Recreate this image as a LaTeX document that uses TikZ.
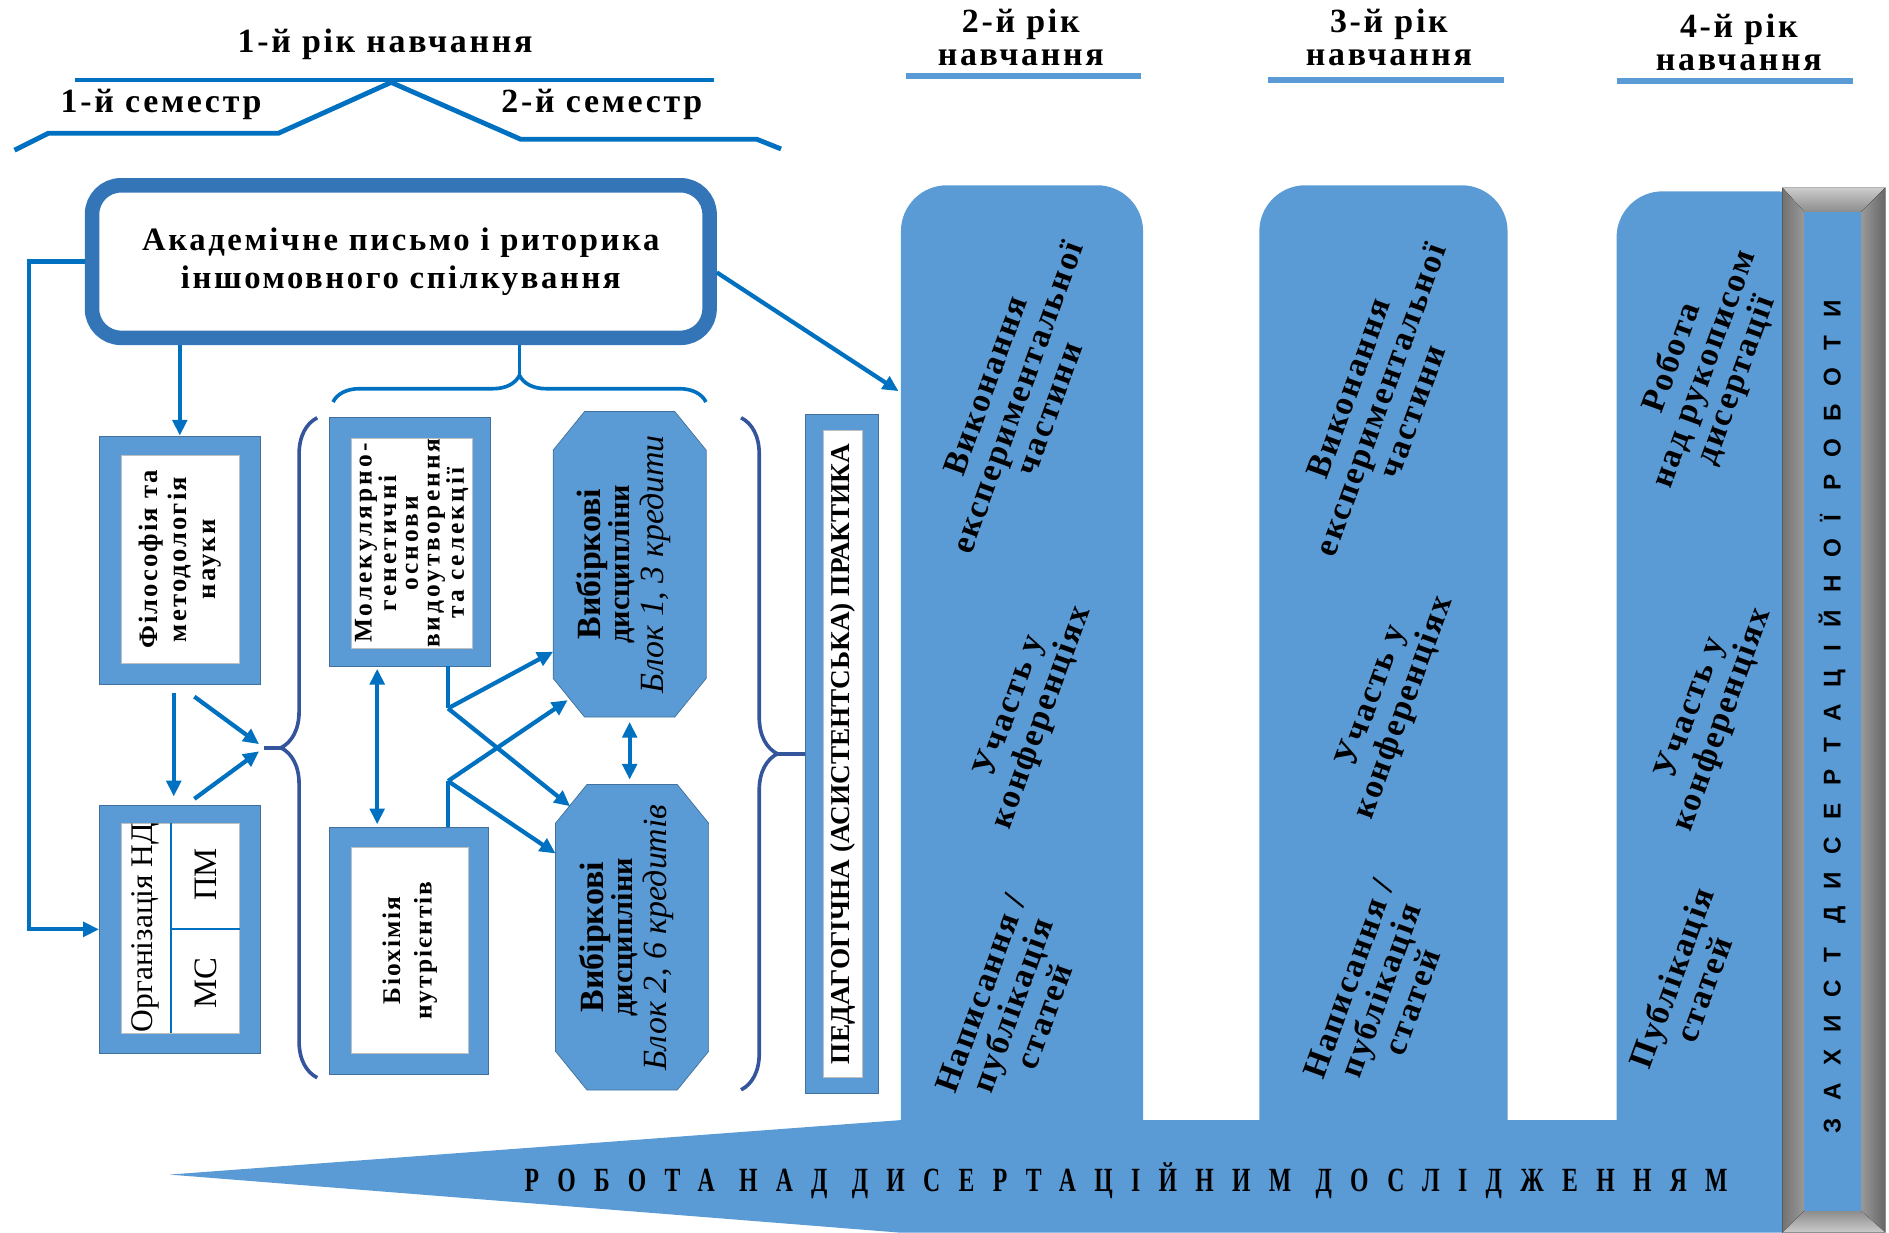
\documentclass[tikz,border=0pt]{standalone}
\usepackage{fontspec}
\setmainfont{Liberation Serif}
\newfontfamily\trackserif[LetterSpace=8]{Liberation Serif}
\newfontfamily\colserif[LetterSpace=6]{Liberation Serif}
\newfontfamily\molserif[LetterSpace=12]{Liberation Serif}
\newfontfamily\bottomserif[LetterSpace=54,FakeStretch=0.7]{Liberation Serif}
\newfontfamily\barsans[LetterSpace=72]{Liberation Sans}
\usetikzlibrary{positioning,arrows.meta,calc,decorations.pathreplacing}

\definecolor{lineblue}{HTML}{0070C0}
\definecolor{fillblue}{HTML}{5B9BD5}
\definecolor{edgeblue}{HTML}{41719C}
\definecolor{acadblue}{HTML}{3375B7}
\definecolor{bracedark}{HTML}{34559C}

\tikzset{
  title/.style={font=\trackserif\bfseries\fontsize{28}{27}\selectfont, align=center, inner sep=0pt},
  semline/.style={lineblue, line width=4pt},
  yearline/.style={fillblue, line width=5pt},
  acadbox/.style={draw=acadblue, line width=12pt, rounded corners=24pt, fill=white,
    minimum width=510pt, minimum height=126pt, align=center,
    font=\trackserif\bfseries\fontsize{27}{31}\selectfont},
  framebox/.style={draw=edgeblue, line width=0.6pt, fill=fillblue, inner sep=0pt},
  innerbox/.style={draw=black!25, line width=0.6pt, fill=white, inner sep=0pt,
    rotate=90, align=center},
  plain/.style={lineblue, line width=3.5pt},
  link/.style={plain, -{Triangle[length=13pt,width=12pt]}},
  dbllink/.style={plain, {Triangle[length=13pt,width=12pt]}-{Triangle[length=13pt,width=12pt]}},
  bracepen/.style={line width=3pt, decorate, decoration={brace, amplitude=#1}},
  octfill/.style={fill=fillblue, draw=edgeblue, line width=0.6pt},
  coltext/.style={rotate=70, align=center, inner sep=0pt,
    font=\colserif\bfseries\fontsize{28}{28}\selectfont},
}

% elective block: name, position, text
\newcommand{\electblock}[3]{%
  \node[minimum width=126pt, minimum height=252pt, inner sep=0pt] (#1) at #2 {};
  \draw[octfill] ([yshift=-32pt]#1.north west) -- ([xshift=26pt]#1.north west)
    -- ([xshift=-26pt]#1.north east) -- ([yshift=-32pt]#1.north east)
    -- ([yshift=32pt]#1.south east) -- ([xshift=-26pt]#1.south east)
    -- ([xshift=26pt]#1.south west) -- ([yshift=32pt]#1.south west) -- cycle;
  \node[rotate=90, align=center, inner sep=0pt, font=\fontsize{28}{24}\selectfont]
    at ([xshift=-5pt]#1.center) {#3};
}

\begin{document}
\begin{tikzpicture}[x=1pt, y=-1pt]
  \useasboundingbox (0,0) rectangle (1560,1018);

  % year columns and the long research wedge
  \fill[fillblue, rounded corners=38pt] (744,153) rectangle (944,990);
  \fill[fillblue, rounded corners=38pt] (1040,153) rectangle (1245,990);
  \fill[fillblue, rounded corners=38pt] (1335,158) rectangle (1505,990);
  \fill[fillblue] (140,970) -- (744,925) -- (1505,925) -- (1505,1018) -- (744,1018) -- cycle;

  % defence bar
  \fill[black!55] (1472,155) rectangle (1557,1018);
  \fill[top color=black!20, bottom color=black!45] (1472,155) -- (1557,155) -- (1537,175) -- (1490,175) -- cycle;
  \fill[left color=black!55, right color=black!40] (1472,155) -- (1490,175) -- (1490,1000) -- (1472,1018) -- cycle;
  \fill[left color=black!40, right color=black!60] (1557,155) -- (1537,175) -- (1537,1000) -- (1557,1018) -- cycle;
  \fill[top color=black!45, bottom color=black!20] (1472,1018) -- (1490,1000) -- (1537,1000) -- (1557,1018) -- cycle;
  \fill[fillblue] (1490,175) rectangle (1537,1000);

  % year titles
  \node[title] (y1) at (318,37) {1-й рік навчання};
  \node[title] (s1) at (133,86) {1-й семестр};
  \node[title] (s2) at (497,86) {2-й семестр};
  \draw[semline] (62,66) -- (590,66);
  \coordinate (apex) at (323,68);
  \draw[semline] (12,124) -- (40,110) -- (230,110) -- (apex) -- (430,115) -- (625,115) -- (645,123);
  \node[title] (y2) at (843,31) {2-й рік\\навчання};
  \node[title] (y3) at (1147,31) {3-й рік\\навчання};
  \node[title] (y4) at (1436,35) {4-й рік\\навчання};
  \draw[yearline] (748,63) -- (942,63);
  \draw[yearline] (1047,66) -- (1242,66);
  \draw[yearline] (1335,67) -- (1530,67);

  % first year
  \node[acadbox] (acad) at (331,216) {Академічне письмо і риторика\\іншомовного спілкування};

  \node[framebox, minimum width=133pt, minimum height=205pt] (phil) at (148.5,462.5) {};
  \node[innerbox, minimum width=172pt, minimum height=98pt,
    font=\trackserif\bfseries\fontsize{22}{24}\selectfont] (philtxt) at (149,462) {Філософія та\\методологія\\науки};

  \node[framebox, minimum width=133pt, minimum height=205pt] (org) at (148.5,767.5) {};
  \node[innerbox, rotate=-90, minimum width=98pt, minimum height=173pt] (orgin) at (149,766.5) {};
  \draw[lineblue, line width=1.5pt] (141,680) -- (141,853);
  \draw[lineblue, line width=1.5pt] (141,767) -- (198,767);
  \node[rotate=90, inner sep=0pt, font=\fontsize{26}{26}\selectfont] (orgname) at (120,766) {Організація НД};
  \node[rotate=90, inner sep=0pt, font=\fontsize{27}{28}\selectfont] (pm) at (170,722) {ПМ};
  \node[rotate=90, inner sep=0pt, font=\fontsize{27}{28}\selectfont] (ms) at (170,812) {МС};

  \node[framebox, minimum width=133pt, minimum height=205pt] (mol) at (338.5,447.5) {};
  \node[innerbox, minimum width=173pt, minimum height=100pt,
    font=\molserif\bfseries\fontsize{21}{18}\selectfont] (moltxt) at (340,448.5)
    {Молекулярно-\\генетичні\\основи\\видоутворення\\та селекції};

  \node[framebox, minimum width=131pt, minimum height=204pt] (bio) at (337.5,785) {};
  \node[innerbox, minimum width=170pt, minimum height=97pt,
    font=\trackserif\bfseries\fontsize{21}{26}\selectfont] (biotxt) at (338.5,785) {Біохімія\\нутрієнтів};

  \electblock{blk1}{(520,466)}{{\bfseries Вибіркові}\\{\bfseries\fontsize{25}{24}\selectfont дисципліни}\\[4pt]{\itshape Блок 1, 3 кредити}}
  \electblock{blk2}{(522,774)}{{\bfseries Вибіркові}\\{\bfseries\fontsize{25}{24}\selectfont дисципліни}\\[4pt]{\itshape Блок 2, 6 кредитів}}

  \node[framebox, minimum width=60pt, minimum height=561pt] (ped) at (695,622.5) {};
  \node[innerbox, minimum width=535pt, minimum height=32pt,
    font=\bfseries\fontsize{22.5}{24}\selectfont] (pedtxt) at (696,622.5) {ПЕДАГОГІЧНА (АСИСТЕНТСЬКА) ПРАКТИКА};

  % braces
  \draw[bracepen=22pt, lineblue] (275,332) -- (583,332);
  \coordinate (topfork) at (429,310);
  \draw[plain, line width=3pt] (acad.south -| topfork) -- (topfork);
  \draw[bracepen=30pt, bracedark] (262,890) -- (262,345);
  \coordinate (lbtip) at (232,617.5);
  \coordinate (lbend) at (218,617.5);
  \draw[bracedark, line width=3pt] (lbtip) -- (lbend);
  \draw[bracepen=30pt, bracedark] (612,345) -- (612,900);
  \coordinate (rbtip) at (642,622.5);
  \draw[bracedark, line width=3pt] (rbtip) -- (ped.west);

  % connectors
  \draw[link] (phil.north |- acad.south) -- (phil.north);
  \draw[link] (acad.west) -- ++(-46,0) |- (org.west);
  \coordinate (col2hit) at (742,323);
  \draw[link] ([yshift=-9pt]acad.east) -- (col2hit);
  \draw[link, shorten <=7pt, shorten >=7pt] ([xshift=-5pt]phil.south) -- ([xshift=-5pt]org.north);
  \draw[link, shorten >=5pt] ([xshift=12pt,yshift=-10pt]phil.south) -- (lbend);
  \draw[link, shorten >=5pt] ([xshift=12pt,yshift=5pt]org.north) -- (lbend);

  \draw[dbllink] ([xshift=-27pt,yshift=-2pt]mol.south) -- ([xshift=-26pt,yshift=2pt]bio.north);
  \coordinate (molfork) at (370,585);
  \coordinate (biofork) at (370,645);
  \draw[plain] (mol.south -| molfork) -- (molfork);
  \draw[plain] (bio.north -| biofork) -- (biofork);
  \draw[link] (molfork) -- ([yshift=54pt]blk1.south west);
  \draw[link] (molfork) -- ([shift={(12pt,-18pt)}]blk2.north west);
  \draw[link] (biofork) -- ([shift={(12pt,14pt)}]blk1.south west);
  \draw[link] (biofork) -- ([yshift=-57pt]blk2.north west);
  \draw[dbllink, shorten <=4pt, shorten >=4pt] (blk1.south) -- (blk1.south |- blk2.north);

  % work in the later years
  \node[coltext] (c2a) at (840,328) {Виконання\\експериментальної\\частини};
  \node[coltext] (c2b) at (848,588) {Участь у\\конференціях};
  \node[coltext] (c2c) at (836,830) {Написання /\\публікація\\статей};
  \node[coltext] (c3a) at (1140,330) {Виконання\\експериментальної\\частини};
  \node[coltext] (c3b) at (1147,580) {Участь у\\конференціях};
  \node[coltext] (c3c) at (1140,818) {Написання /\\публікація\\статей};
  \node[coltext] (c4a) at (1408,305) {Робота\\над рукописом\\дисертації};
  \node[coltext] (c4b) at (1410,590) {Участь у\\конференціях};
  \node[coltext] (c4c) at (1393,812) {Публікація\\статей};

  \node[inner sep=0pt, font=\bottomserif\bfseries\fontsize{28}{28}\selectfont] (research) at (930,975)
    {РОБОТА НАД ДИСЕРТАЦІЙНИМ ДОСЛІДЖЕННЯМ};
  \node[rotate=90, inner sep=0pt, font=\barsans\bfseries\fontsize{20}{20}\selectfont] (defence) at (1513,592)
    {ЗАХИСТ ДИСЕРТАЦІЙНОЇ РОБОТИ};
\end{tikzpicture}
\end{document}
